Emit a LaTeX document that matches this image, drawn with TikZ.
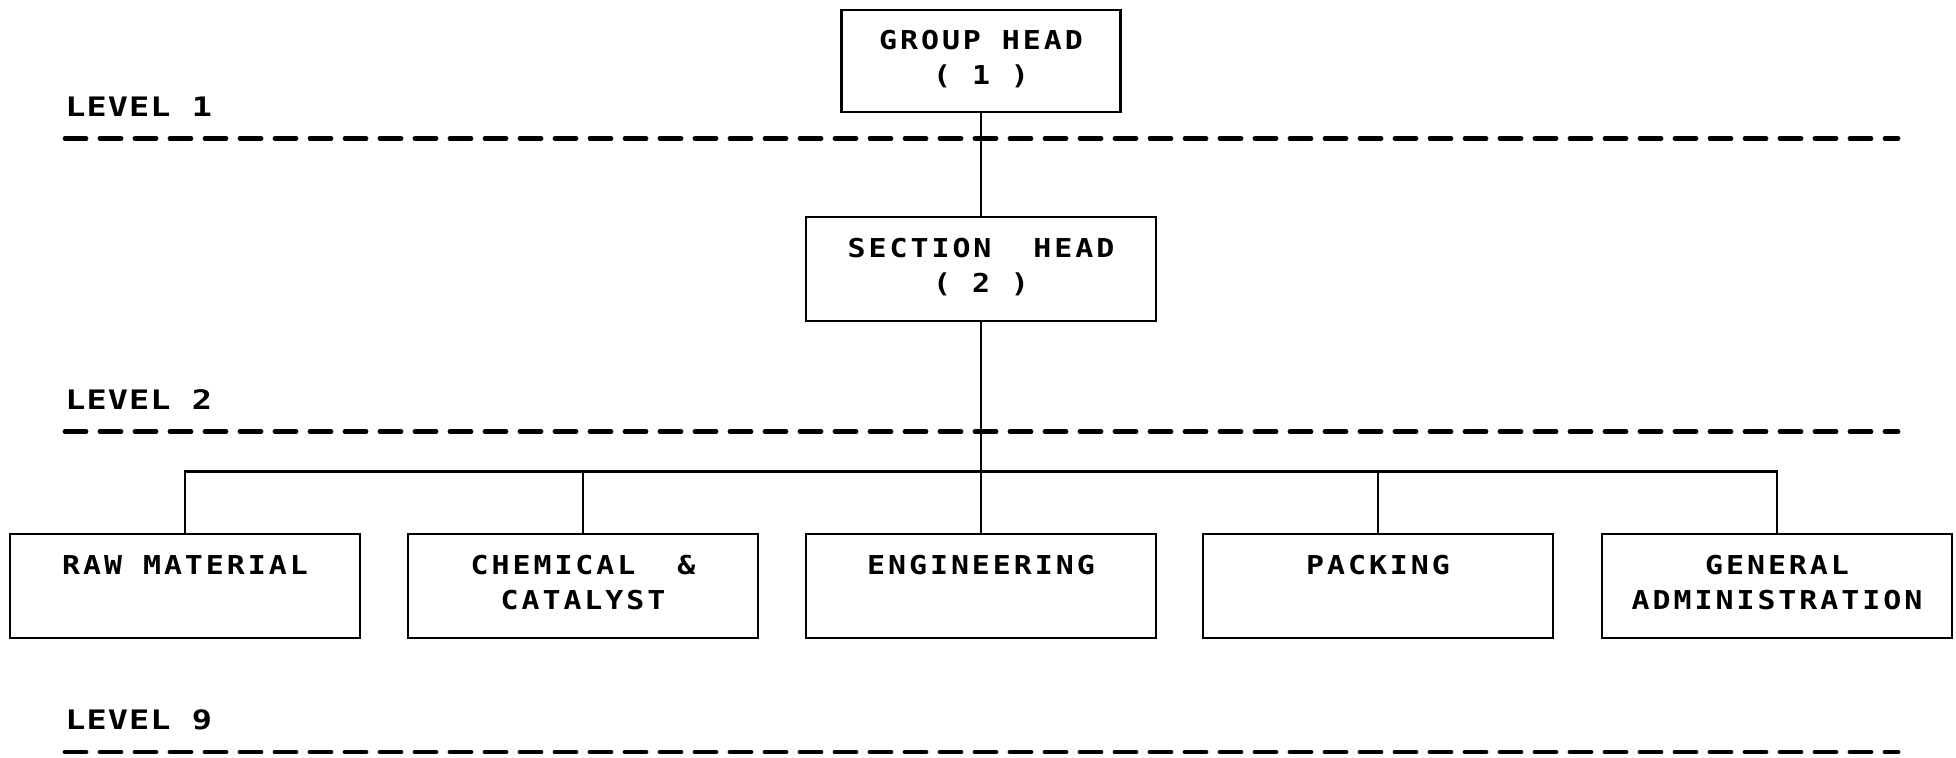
\documentclass[tikz,border=0pt]{standalone}
\usepackage{fontspec}
\newfontfamily\boxfont[FakeStretch=1.15,LetterSpace=11.5]{DejaVu Sans Mono}
\newfontfamily\lvlfont[FakeStretch=1.25,LetterSpace=4]{DejaVu Sans Mono}
\begin{document}
\begin{tikzpicture}[x=0.5pt,y=-0.5pt,
  orgbox/.style={draw, line width=1.3pt, rectangle, inner sep=0pt,
    minimum width=175pt, minimum height=52pt},
  boxtext/.style={anchor=north, inner sep=0pt, align=center,
    font={\boxfont\bfseries\fontsize{13}{17.5}\selectfont}},
  lvltext/.style={anchor=west, inner sep=0pt,
    font={\lvlfont\bfseries\fontsize{13.4}{16}\selectfont}},
  levelline/.style={line width=2.4pt, line cap=round, dash pattern=on 10.5pt off 7pt},
  conn/.style={line width=1.3pt}]
\useasboundingbox (0,0) rectangle (1956,757);

% top boxes
\node[orgbox, minimum width=139.5pt, minimum height=51pt] (gh) at (981,61) {};
\node[boxtext] (ght) at ([yshift=-10.5pt]gh.north) {GROUP HEAD\\( 1 )};
\node[orgbox] (sh) at (981,269) {};
\node[boxtext] (sht) at ([yshift=-11pt]sh.north) {SECTION\ \ HEAD\\( 2 )};

% bottom boxes
\node[orgbox] (raw)  at (185,586) {};
\node[orgbox] (chem) at (583,586) {};
\node[orgbox] (eng)  at (981,586) {};
\node[orgbox] (pack) at (1378,586) {};
\node[orgbox] (ga)   at (1777,586) {};
\node[boxtext] (rawt)  at ([yshift=-11pt]raw.north)  {RAW MATERIAL};
\node[boxtext] (chemt) at ([yshift=-11pt]chem.north) {CHEMICAL\ \ \&\\CATALYST};
\node[boxtext] (engt)  at ([yshift=-11pt]eng.north)  {ENGINEERING};
\node[boxtext] (packt) at ([yshift=-11pt]pack.north) {PACKING};
\node[boxtext] (gat)   at ([yshift=-11pt]ga.north)   {GENERAL\\ADMINISTRATION};

% level labels
\node[lvltext] (l1) at (65,107) {LEVEL 1};
\node[lvltext] (l2) at (65,400) {LEVEL 2};
\node[lvltext] (l3) at (65,720) {LEVEL 9};

% level lines
\coordinate (d1a) at (65,138.5);  \coordinate (d1b) at (1898,138.5);
\coordinate (d2a) at (65,431.7);  \coordinate (d2b) at (1898,431.7);
\coordinate (d3a) at (65,752);    \coordinate (d3b) at (1898,752);
\draw[levelline] (d1a) -- (d1b);
\draw[levelline] (d2a) -- (d2b);
\draw[levelline] (d3a) -- (d3b);

% connectors
\coordinate (bus) at (981,471.5);
\draw[conn] (gh.south) -- (sh.north);
\draw[conn] (sh.south) -- (eng.north);
\draw[conn] (raw.north) -- (raw.north |- bus) -- (ga.north |- bus) -- (ga.north);
\draw[conn] (chem.north) -- (chem.north |- bus);
\draw[conn] (pack.north) -- (pack.north |- bus);
\end{tikzpicture}
\end{document}
